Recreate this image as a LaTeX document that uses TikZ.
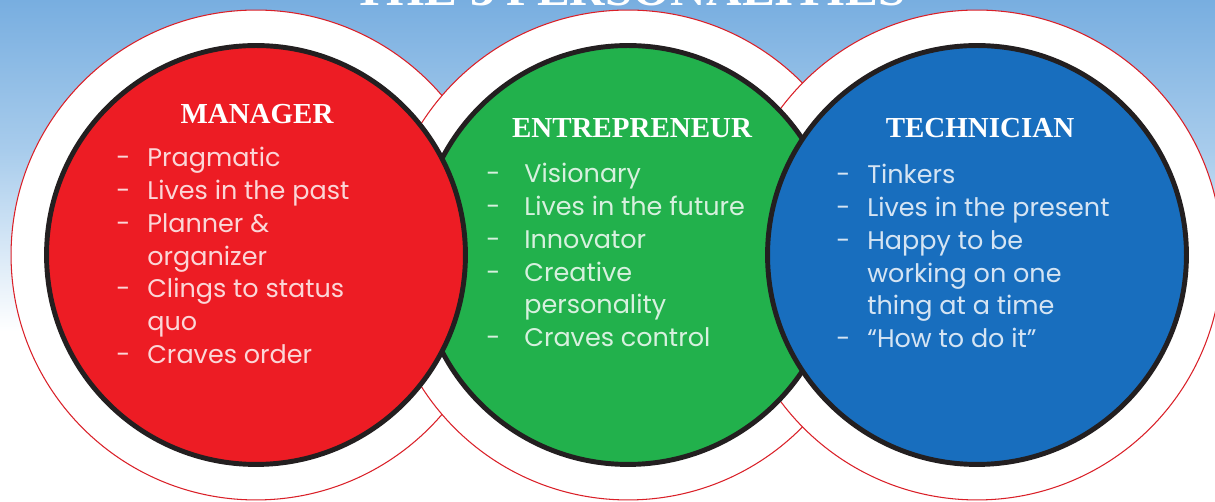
\documentclass[tikz,border=0pt]{standalone}
\usepackage{fontspec}
\setmainfont{Liberation Serif}
\newfontfamily\itemfont{Poppins}
\definecolor{mgrred}{RGB}{237,28,36}
\definecolor{entgreen}{RGB}{34,177,76}
\definecolor{techblue}{RGB}{24,110,190}
\definecolor{rimred}{RGB}{218,32,40}
\definecolor{rimblack}{RGB}{35,31,32}
\definecolor{skytop}{RGB}{120,174,224}
\definecolor{skymid}{RGB}{168,204,236}
\pgfdeclareverticalshading{sky}{100bp}{color(0bp)=(white); color(25bp)=(white); color(42bp)=(white); color(60bp)=(skymid); color(75bp)=(skytop); color(100bp)=(skytop)}

\begin{document}
\begin{tikzpicture}[x=0.02cm, y=-0.02cm,
  rim/.style={circle, draw=rimred, line width=0.6pt, fill=white, minimum size=9.8cm, inner sep=0pt},
  disc/.style={circle, draw=rimblack, line width=2.8pt, minimum size=8.38cm, inner sep=0pt},
  heading/.style={anchor=base, text=white, inner sep=0pt, font=\fontsize{16.5}{20}\selectfont\bfseries},
  items/.style={anchor=base west, text=white, text opacity=0.82, inner sep=0pt, font=\itemfont\fontsize{14.5}{18.6}\selectfont}]
\useasboundingbox (0,0) rectangle (1215,502);
\clip (0,0) rectangle (1215,502);
\shade[shading=sky] (0,0) rectangle (1215,502);
\node[anchor=base, text=white, inner sep=0pt, font=\fontsize{28}{30}\selectfont\bfseries] (title) at (630,6) {THE 3 PERSONALITIES};
% white rings, each one laid over the one before
\node[rim] (mgrrim) at (256,255) {};
\node[rim] (entrim) at (628,255) {};
\node[rim] (techrim) at (977,255) {};
% the middle disc goes under the two side discs
\node[disc, fill=entgreen] (ent) at (628,255) {};
\node[disc, fill=mgrred] (mgr) at (256,255) {};
\node[disc, fill=techblue] (tech) at (977,255) {};
\node[heading] (mgrhead) at (257,124) {MANAGER};
\node[heading] (enthead) at (632,138) {ENTREPRENEUR};
\node[heading] (techhead) at (980,138) {TECHNICIAN};
\node[items] (mgritems) at (116,167) {\begin{tabular}[t]{@{}p{0.62cm}@{}l@{}}
- & Pragmatic\\ - & Lives in the past\\ - & Planner \&\\ & organizer\\ - & Clings to status\\ & quo\\ - & Craves order
\end{tabular}};
\node[items] (entitems) at (486,183) {\begin{tabular}[t]{@{}p{0.76cm}@{}l@{}}
- & Visionary\\ - & Lives in the future\\ - & Innovator\\ - & Creative\\ & personality\\ - & Craves control
\end{tabular}};
\node[items] (techitems) at (836,184) {\begin{tabular}[t]{@{}p{0.62cm}@{}l@{}}
- & Tinkers\\ - & Lives in the present\\ - & Happy to be\\ & working on one\\ & thing at a time\\ - & “How to do it”
\end{tabular}};
\end{tikzpicture}
\end{document}
